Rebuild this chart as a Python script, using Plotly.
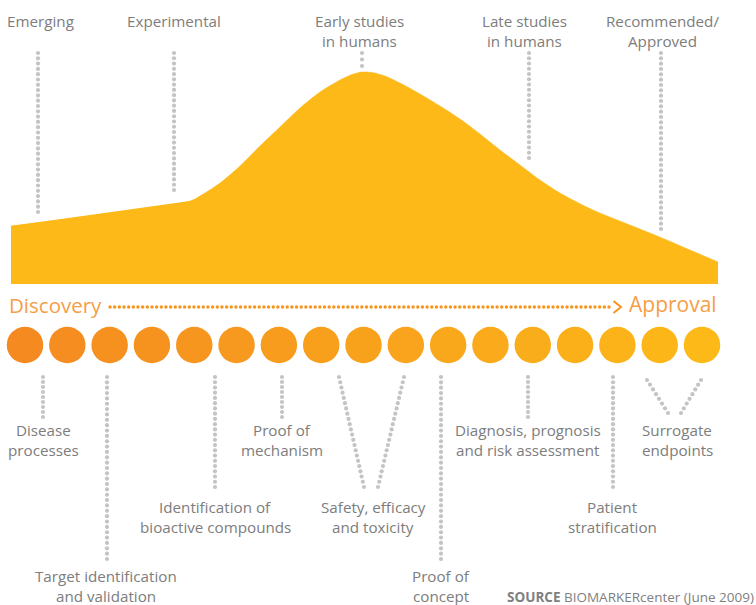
import numpy as np
import plotly.graph_objects as go

# ---------------- data ----------------
stage_labels = ["Emerging", "Experimental", "Early studies<br>in humans",
                "Late studies<br>in humans", "Recommended/<br>Approved"]
# research-activity curve (pixel-space units)
curve_x = [11, 190, 200, 220, 240, 260, 280, 300, 320, 340, 352, 362, 372, 385, 400, 420,
           440, 460, 480, 500, 520, 540, 560, 593, 630, 662, 690, 718]
curve_y = [226, 201, 196, 183, 166, 146, 127, 108, 92, 80, 74.5, 72, 72.5, 76, 83, 94,
           106, 119, 134, 150, 165, 180, 193, 210, 225, 238, 250, 262]
milestone_labels = ["Disease<br>processes", "Target identification<br>and validation",
                    "Identification of<br>bioactive compounds", "Proof of<br>mechanism",
                    "Safety, efficacy<br>and toxicity", "Proof of<br>concept",
                    "Diagnosis, prognosis<br>and risk assessment",
                    "Patient<br>stratification", "Surrogate<br>endpoints"]
n_circles = 17
start_label, end_label = "Discovery", "Approval"
source_bold, source_text = "SOURCE", " BIOMARKERcenter (June 2009)"

# ---------------- layout geometry ----------------
W, H = 756, 605
base_y = 284
stage_x = [40, 174, 359, 524, 662]
stage_line_x = [38, 174, 362, 529, 661]
stage_line_bottom = [212, 190, 66, 158, 229]
stage_line_top = 53
label_line_gap = 20

ms_x = [43, 106, 215, 282, 373, 441, 528, 612, 677]
ms_y = [430, 576, 507, 430, 507, 576, 430, 507, 430]
ms_connectors = [
    [((43, 377), (43, 417))],
    [((107, 377), (107, 559))],
    [((215, 377), (215, 487))],
    [((282, 377), (282, 417))],
    [((339, 377), (364, 487)), ((404, 377), (378, 487))],
    [((441, 377), (441, 559))],
    [((528, 377), (528, 417))],
    [((613, 377), (613, 487))],
    [((647, 380), (668, 413)), ((701, 380), (681, 413))],
]

GRAY_TXT = "#7d7d7d"
DOT_GRAY = "#c4c4c4"
YELLOW = "#FCB918"
ORANGE = "#F7941D"
ORANGE_TXT = "#F59E47"
FONT = "Open Sans"
TXT_SIZE = 15.2

fig = go.Figure()

# area: baseline then curve filled down to it
fig.add_trace(go.Scatter(
    x=[curve_x[0], curve_x[-1]], y=[base_y, base_y], mode="lines",
    line=dict(width=0, color=YELLOW), hoverinfo="skip", showlegend=False))
fig.add_trace(go.Scatter(
    x=curve_x, y=curve_y, mode="lines", fill="tonexty", fillcolor=YELLOW,
    line=dict(color=YELLOW, width=0.5, shape="spline", smoothing=0.8),
    hoverinfo="skip", showlegend=False))
# straight left edge of the area
fig.add_trace(go.Scatter(
    x=[curve_x[0], curve_x[0], curve_x[1]], y=[base_y, curve_y[0], curve_y[1]],
    mode="lines", fill="toself", fillcolor=YELLOW, line=dict(width=0, color=YELLOW),
    hoverinfo="skip", showlegend=False))


def dotted(x0, y0, x1, y1, spacing, size, color):
    d = np.hypot(x1 - x0, y1 - y0)
    n = int(round(d / spacing)) + 1
    fig.add_trace(go.Scatter(
        x=np.linspace(x0, x1, n), y=np.linspace(y0, y1, n), mode="markers",
        marker=dict(size=size, color=color, line=dict(width=0)),
        hoverinfo="skip", showlegend=False))


annotations = []


def add_label(text, x, y, size=TXT_SIZE, color=GRAY_TXT, xanchor="center"):
    for i, line in enumerate(text.split("<br>")):
        annotations.append(dict(
            x=x, y=y + i * label_line_gap, text=line, showarrow=False,
            xref="x", yref="y", xanchor=xanchor, yanchor="middle",
            font=dict(family=FONT, size=size, color=color)))


# stage labels + connectors
for lab, x, lx, lb in zip(stage_labels, stage_x, stage_line_x, stage_line_bottom):
    add_label(lab, x, 21)
    dotted(lx, stage_line_top, lx, lb, 5.3, 4.2, DOT_GRAY)

# discovery -> approval arrow
dotted(110, 307, 609, 307, 4.67, 3.4, ORANGE)
fig.add_trace(go.Scatter(x=[613.5, 621, 613.5], y=[301, 307, 313], mode="lines",
                         line=dict(color=ORANGE, width=2), hoverinfo="skip",
                         showlegend=False))
annotations.append(dict(x=7, y=305, text=start_label, showarrow=False, xref="x", yref="y",
                        xanchor="left", yanchor="middle",
                        font=dict(family=FONT, size=20.5, color=ORANGE_TXT)))
annotations.append(dict(x=719, y=304, text=end_label, showarrow=False, xref="x", yref="y",
                        xanchor="right", yanchor="middle",
                        font=dict(family=FONT, size=21, color=ORANGE_TXT)))

# circles
c0 = np.array([0xF5, 0x8A, 0x20])
c1 = np.array([0xFC, 0xB9, 0x18])
cols = ["rgb(%d,%d,%d)" % tuple((c0 + (c1 - c0) * t).round()) for t in np.linspace(0, 1, n_circles)]
fig.add_trace(go.Scatter(
    x=np.linspace(25, 702, n_circles), y=[345] * n_circles, mode="markers",
    marker=dict(size=36.5, color=cols, line=dict(width=0)),
    hoverinfo="skip", showlegend=False))

# milestones
for lab, x, y, segs in zip(milestone_labels, ms_x, ms_y, ms_connectors):
    add_label(lab, x, y)
    for (a, b) in segs:
        dotted(a[0], a[1], b[0], b[1], 5.3, 4.2, DOT_GRAY)

# source
annotations.append(dict(
    x=1, y=1 - 597 / H, xref="paper", yref="paper", xanchor="right", yanchor="middle",
    showarrow=False, text="<b>%s</b>%s" % (source_bold, source_text),
    font=dict(family=FONT, size=13.5, color="#808080")))

fig.update_layout(
    width=W, height=H, margin=dict(l=0, r=0, t=0, b=0),
    paper_bgcolor="white", plot_bgcolor="white",
    xaxis=dict(range=[0, W], visible=False, fixedrange=True),
    yaxis=dict(range=[H, 0], visible=False, fixedrange=True),
    annotations=annotations, showlegend=False)

fig.write_html("out.html", config={"displayModeBar": False},
               post_script="document.body.style.margin='0';document.body.style.overflow='hidden';")
